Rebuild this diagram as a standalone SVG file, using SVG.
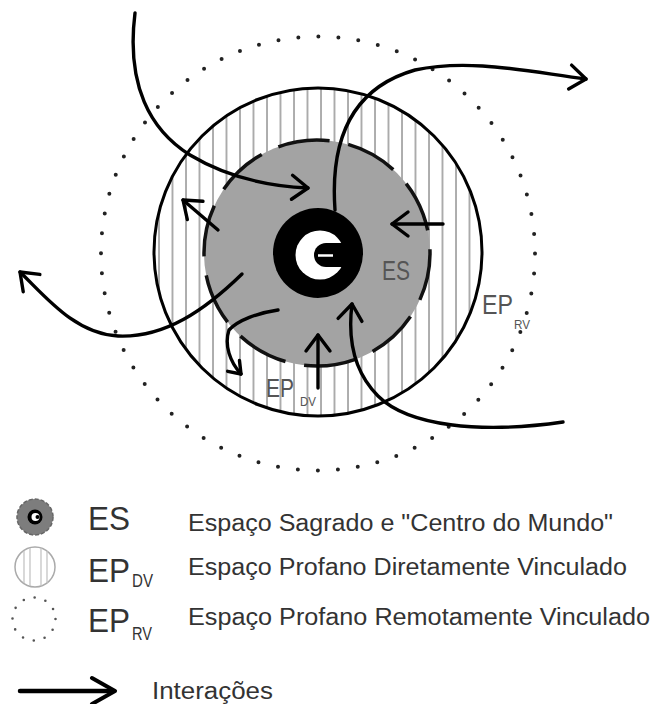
<svg xmlns="http://www.w3.org/2000/svg" width="652" height="704" viewBox="0 0 652 704">
<style>
.conn{fill:none;stroke:#000;stroke-width:3.4;stroke-linecap:round;stroke-linejoin:round}
.head{fill:none;stroke:#000;stroke-width:3.4;stroke-linecap:round;stroke-linejoin:round}
.lbl{font-family:"Liberation Sans",Arial,sans-serif;fill:#555}
.leg{font-family:"Liberation Sans",Arial,sans-serif;fill:#333}
</style>
<defs>
<pattern id="stripes" patternUnits="userSpaceOnUse" x="9.5" y="0" width="13.5" height="10">
<line x1="1" y1="0" x2="1" y2="10" stroke="#9a9a9a" stroke-width="1.6"/>
</pattern>
<marker id="arr" markerUnits="userSpaceOnUse" viewBox="-20 -15 26 30" refX="0" refY="0" markerWidth="26" markerHeight="30" orient="auto" overflow="visible">
<path class="head" d="M -16,-12 L 0,0 L -16,12"/>
</marker>
<marker id="arrS" markerUnits="userSpaceOnUse" viewBox="-14 -10 18 20" refX="0" refY="0" markerWidth="18" markerHeight="20" orient="auto" overflow="visible">
<path class="head" d="M -11,-8 L 0,0 L -11,8"/>
</marker>
</defs>
<rect width="652" height="704" fill="#fff"/>

<g id="EP_RV">
<circle cx="318" cy="253.5" r="217" fill="none" stroke="#222" stroke-width="4" stroke-linecap="round" stroke-dasharray="0 20.05"/>
</g>

<g id="EP_DV">
<circle cx="318" cy="252" r="164" fill="url(#stripes)" stroke="#000" stroke-width="3"/>
</g>

<g id="ES">
<circle cx="317" cy="253" r="113" fill="#a3a3a3"/>
<circle cx="317" cy="253" r="113" fill="none" stroke="#111" stroke-width="3.5" stroke-dasharray="52 19" transform="rotate(-110 317 253)"/>
</g>

<g id="centro">
<circle cx="318" cy="253" r="45" fill="#000"/>
<circle cx="320" cy="255" r="24.5" fill="#fff"/>
<path d="M 346,243 L 326,243 A 12,12 0 0 0 326,267 L 346,267 Z" fill="#000"/>
<line x1="318" y1="255.5" x2="333" y2="255.5" stroke="#fff" stroke-width="2.5"/>
</g>

<g id="labels">
<text class="lbl" x="382" y="280" font-size="28" textLength="28" lengthAdjust="spacingAndGlyphs">ES</text>
<text class="lbl" x="482" y="314" font-size="27" textLength="31" lengthAdjust="spacingAndGlyphs">EP</text>
<text class="lbl" x="514" y="329" font-size="13" textLength="16" lengthAdjust="spacingAndGlyphs">RV</text>
<text class="lbl" x="266" y="397" font-size="25" textLength="28" lengthAdjust="spacingAndGlyphs">EP</text>
<text class="lbl" x="300" y="406" font-size="13" textLength="16" lengthAdjust="spacingAndGlyphs">DV</text>
</g>

<g id="connectors">
<path class="conn" d="M 135,13 C 126,85 150,130 190,155 C 225,176 265,186 308,188" marker-end="url(#arr)"/>
<path class="conn" d="M 335,210 C 330,140 352,88 415,70 C 470,58 530,72 586,79" marker-end="url(#arr)"/>
<path class="conn" d="M 443,224 L 392,224" marker-end="url(#arr)"/>
<path class="conn" d="M 218,230 L 183,200" marker-end="url(#arr)"/>
<path class="conn" d="M 242,274 C 205,310 165,338 118,336 C 75,334 45,296 20,272" marker-end="url(#arr)"/>
<path class="conn" d="M 278,310 C 258,313 238,320 229,330 C 224,345 230,362 241,374" marker-end="url(#arrS)"/>
<path class="conn" d="M 318,388 L 318,335" marker-end="url(#arr)"/>
<path class="conn" d="M 563,422 C 480,434 408,426 378,396 C 352,370 348,336 352,304" marker-end="url(#arr)"/>
</g>

<g id="legend-ES">
<circle cx="35" cy="517" r="18" fill="#7d7d7d" stroke="#666" stroke-width="1.5" stroke-dasharray="4 2"/>
<circle cx="35" cy="517" r="7.5" fill="#000"/>
<circle cx="35.5" cy="517" r="4" fill="#fff"/>
<circle cx="37.5" cy="517" r="2" fill="#000"/>
<text class="leg" x="88" y="530" font-size="34" textLength="42" lengthAdjust="spacingAndGlyphs">ES</text>
<text class="leg" x="188" y="531" font-size="23" textLength="425" lengthAdjust="spacingAndGlyphs">Espaço Sagrado e "Centro do Mundo"</text>
</g>

<g id="legend-EPDV">
<circle cx="35" cy="567" r="20" fill="#fff" stroke="#aaa" stroke-width="1.5"/>
<line x1="24" y1="551" x2="24" y2="583" stroke="#c4c4c4" stroke-width="1.3"/>
<line x1="30" y1="548" x2="30" y2="586" stroke="#c4c4c4" stroke-width="1.3"/>
<line x1="41" y1="548" x2="41" y2="586" stroke="#c4c4c4" stroke-width="1.3"/>
<line x1="47" y1="551" x2="47" y2="583" stroke="#c4c4c4" stroke-width="1.3"/>
<text class="leg" x="88" y="582" font-size="34" textLength="42" lengthAdjust="spacingAndGlyphs">EP</text>
<text class="leg" x="132" y="587" font-size="19" textLength="21" lengthAdjust="spacingAndGlyphs">DV</text>
<text class="leg" x="188" y="575" font-size="23" textLength="439" lengthAdjust="spacingAndGlyphs">Espaço Profano Diretamente Vinculado</text>
</g>

<g id="legend-EPRV">
<circle cx="34" cy="619" r="21.5" fill="none" stroke="#555" stroke-width="2.6" stroke-linecap="round" stroke-dasharray="0 11.26"/>
<text class="leg" x="88" y="632" font-size="34" textLength="42" lengthAdjust="spacingAndGlyphs">EP</text>
<text class="leg" x="132" y="640" font-size="19" textLength="20" lengthAdjust="spacingAndGlyphs">RV</text>
<text class="leg" x="188" y="625" font-size="23" textLength="462" lengthAdjust="spacingAndGlyphs">Espaço Profano Remotamente Vinculado</text>
</g>

<g id="legend-interacoes">
<path d="M 20,691 L 113,691" fill="none" stroke="#000" stroke-width="4.5" stroke-linecap="round"/>
<path d="M 92,678 L 115,691 L 92,704" fill="none" stroke="#000" stroke-width="4" stroke-linecap="round" stroke-linejoin="round"/>
<text class="leg" x="152" y="699" font-size="23" textLength="121" lengthAdjust="spacingAndGlyphs">Interações</text>
</g>
</svg>
